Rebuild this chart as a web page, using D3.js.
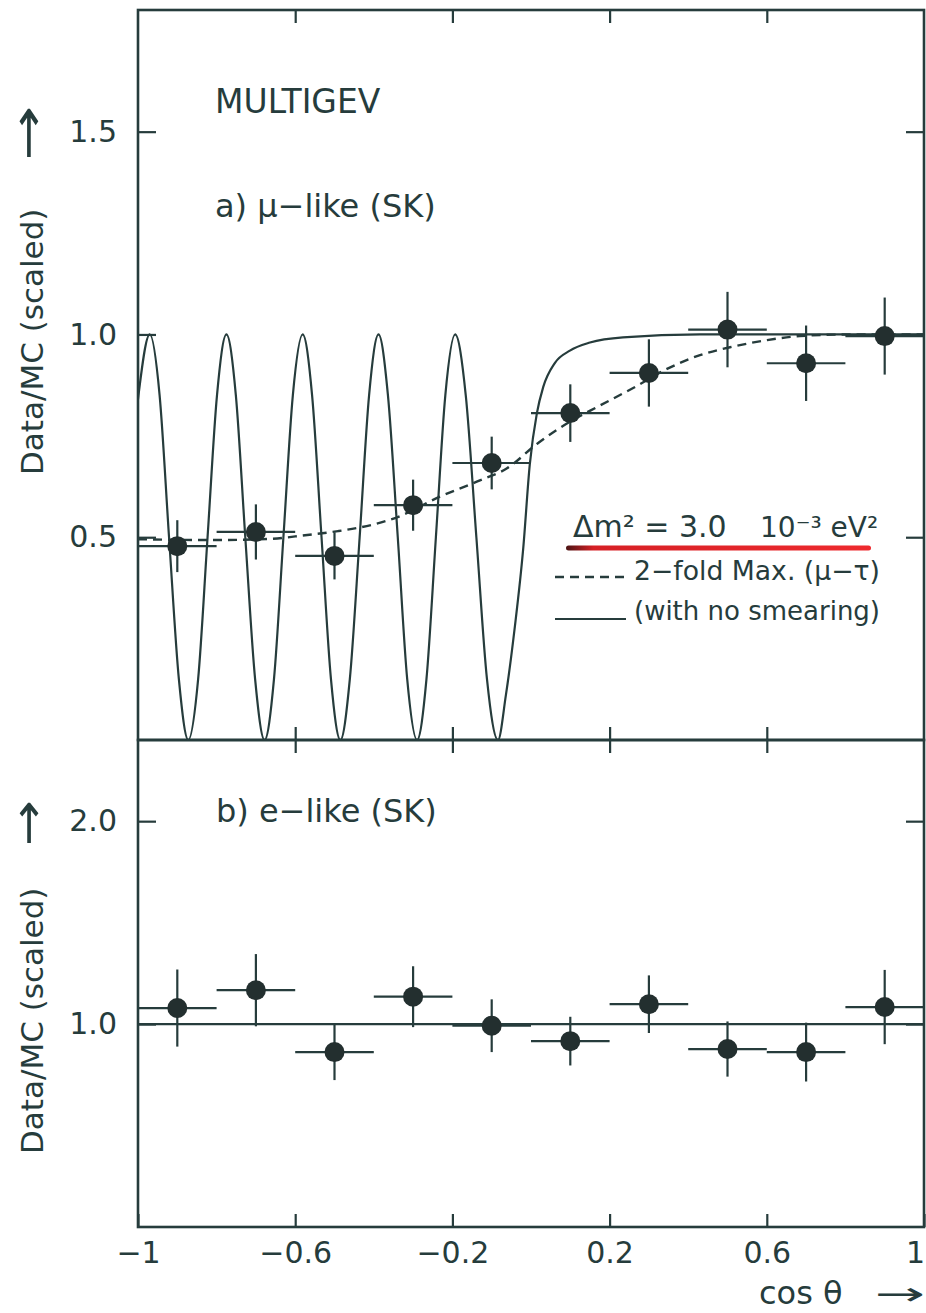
<!DOCTYPE html>
<html>
<head>
<meta charset="UTF-8">
<title>Multi-GeV Data/MC vs cos theta</title>
<script src="https://d3js.org/d3.v7.min.js"></script>
<style>
  body { margin: 0; background: #fff; }
  svg { display: block; }
  text { font-family: "DejaVu Sans", sans-serif; }
</style>
</head>
<body>
<svg id="chart" width="926" height="1313"></svg>
<script>
// bins in cos(theta), width 0.2
var cosBins = [-0.9, -0.7, -0.5, -0.3, -0.1, 0.1, 0.3, 0.5, 0.7, 0.9];
var binHalf = 0.1;

// a) mu-like
var muRatio = [0.478, 0.513, 0.454, 0.579, 0.683, 0.806, 0.905, 1.012, 0.929, 0.996];
var muErr   = [0.064, 0.068, 0.058, 0.063, 0.065, 0.071, 0.083, 0.093, 0.093, 0.095];

// b) e-like
var eRatio = [1.079, 1.167, 0.862, 1.135, 0.992, 0.916, 1.098, 0.877, 0.862, 1.084];
var eErr   = [0.190, 0.178, 0.138, 0.150, 0.130, 0.120, 0.142, 0.136, 0.145, 0.183];

// 2-fold max (mu-tau), smeared - dashed
var smearCos   = [-1, -0.804, -0.662, -0.575, -0.491, -0.407, -0.344, -0.232, -0.130, -0.061, 0.015, 0.099, 0.176, 0.260, 0.346, 0.430, 0.514, 0.601, 0.684, 0.812, 1];
var smearRatio = [0.495, 0.493, 0.496, 0.505, 0.515, 0.530, 0.548, 0.600, 0.640, 0.670, 0.730, 0.785, 0.825, 0.868, 0.915, 0.949, 0.970, 0.986, 0.996, 1.0, 1.0];

// same, with no smearing - solid
var rawCos = [-1.000, -0.970, -0.945, -0.921, -0.896, -0.872, -0.847, -0.823, -0.799, -0.775,
              -0.751, -0.727, -0.702, -0.678, -0.654, -0.630, -0.606, -0.581, -0.557, -0.533,
              -0.509, -0.485, -0.461, -0.436, -0.412, -0.388, -0.364, -0.339, -0.315, -0.290,
              -0.266, -0.242, -0.218, -0.193, -0.166, -0.139, -0.112, -0.084, -0.064, -0.041,
              -0.020, -0.003, 0.015, 0.031, 0.061, 0.099, 0.150, 0.234, 0.430, 1.0];
var rawRatio = [0.84, 1, 0.85, 0.5, 0.15, 0, 0.15, 0.5, 0.85, 1,
                0.85, 0.5, 0.15, 0, 0.15, 0.5, 0.85, 1, 0.85, 0.5,
                0.15, 0, 0.15, 0.5, 0.85, 1, 0.85, 0.5, 0.15, 0,
                0.15, 0.5, 0.85, 1, 0.85, 0.5, 0.15, 0, 0.11, 0.28,
                0.47, 0.68, 0.806, 0.87, 0.93, 0.96, 0.98, 0.993, 1.0, 1.0];

// e-like expectation
var eFlat = [1.0, 1.0];

var xTicks = [-1, -0.6, -0.2, 0.2, 0.6, 1];
var xTickText = ["\u22121", "\u22120.6", "\u22120.2", "0.2", "0.6", "1"];
var yTicksTop = [0.5, 1.0, 1.5];
var yTicksBot = [1.0, 2.0];

var ink = "#263c3c";
var svg = d3.select("#chart");

var x = d3.scaleLinear().domain([-1, 1]).range([138, 924]);
var yTop = d3.scaleLinear().domain([0, 1.8]).range([740, 10]);
var yBot = d3.scaleLinear().domain([0, 2.4]).range([1227, 740]);

function styleAxis(g) {
  g.select(".domain").remove();
  g.attr("font-family", "DejaVu Sans").attr("font-size", 30).attr("color", ink);
  g.selectAll("line").attr("stroke-width", 2.2);
}

function panel(y, yTicks, withLabels, id) {
  var top = y.range()[1], bottom = y.range()[0];
  var inner = xTicks.slice(1, -1);

  var gx = svg.append("g").attr("transform", "translate(0," + bottom + ")")
    .call(d3.axisBottom(x).tickValues(withLabels ? xTicks : inner).tickSizeInner(-13).tickSizeOuter(0).tickPadding(15)
      .tickFormat(function(d, i) { return withLabels ? xTickText[i] : ""; }))
    .call(styleAxis);
  // keep the last label inside the page
  gx.selectAll("text").filter(function(d) { return d === 1; }).attr("dx", -9);

  svg.append("g").attr("transform", "translate(0," + top + ")")
    .call(d3.axisTop(x).tickValues(inner).tickSizeInner(-13).tickSizeOuter(0).tickFormat(""))
    .call(styleAxis);

  svg.append("g").attr("transform", "translate(" + x(-1) + ",0)")
    .call(d3.axisLeft(y).tickValues(yTicks).tickSizeInner(-18).tickSizeOuter(0).tickPadding(21).tickFormat(d3.format(".1f")))
    .call(styleAxis);

  svg.append("g").attr("transform", "translate(" + x(1) + ",0)")
    .call(d3.axisRight(y).tickValues(yTicks).tickSizeInner(-18).tickSizeOuter(0).tickFormat(""))
    .call(styleAxis);

  svg.append("rect")
    .attr("x", x(-1)).attr("y", top)
    .attr("width", x(1) - x(-1)).attr("height", bottom - top)
    .attr("fill", "none").attr("stroke", ink).attr("stroke-width", 2.6);

  svg.append("clipPath").attr("id", id)
    .append("rect")
    .attr("x", x(-1)).attr("y", top)
    .attr("width", x(1) - x(-1)).attr("height", bottom - top);
}

function points(y, vals, errs) {
  var g = svg.append("g").attr("stroke", ink).attr("stroke-width", 2.2);
  cosBins.forEach(function(c, i) {
    g.append("line")
      .attr("x1", x(c - binHalf)).attr("x2", x(c + binHalf))
      .attr("y1", y(vals[i])).attr("y2", y(vals[i]));
    g.append("line")
      .attr("x1", x(c)).attr("x2", x(c))
      .attr("y1", y(vals[i] - errs[i])).attr("y2", y(vals[i] + errs[i]));
    g.append("circle")
      .attr("cx", x(c)).attr("cy", y(vals[i])).attr("r", 10)
      .attr("fill", "#232f2f").attr("stroke", "none");
  });
}

panel(yTop, yTicksTop, false, "clipTop");
panel(yBot, yTicksBot, true, "clipBot");

// curves, top panel
var lineTop = d3.line()
  .x(function(d) { return x(d[0]); })
  .y(function(d) { return yTop(d[1]); })
  .curve(d3.curveMonotoneX);

svg.append("path")
  .datum(d3.zip(rawCos, rawRatio))
  .attr("clip-path", "url(#clipTop)")
  .attr("d", lineTop)
  .attr("fill", "none").attr("stroke", ink).attr("stroke-width", 2.2);

svg.append("path")
  .datum(d3.zip(smearCos, smearRatio))
  .attr("clip-path", "url(#clipTop)")
  .attr("d", lineTop)
  .attr("fill", "none").attr("stroke", ink).attr("stroke-width", 2.4)
  .attr("stroke-dasharray", "9,6");

points(yTop, muRatio, muErr);

// bottom panel
svg.append("path")
  .datum(d3.zip([-1, 1], eFlat))
  .attr("d", d3.line().x(function(d) { return x(d[0]); }).y(function(d) { return yBot(d[1]); }))
  .attr("fill", "none").attr("stroke", ink).attr("stroke-width", 2.2);

points(yBot, eRatio, eErr);

// texts
function label(txt, px, py, size) {
  return svg.append("text").attr("x", px).attr("y", py)
    .attr("font-size", size).attr("fill", ink).text(txt);
}

label("MULTIGEV", 215, 113, 33);
label("a) \u03bc\u2212like (SK)", 215, 217, 32);
label("b) e\u2212like (SK)", 216, 822, 32);

// y titles with arrows
[[475, 157, 1.5], [1154, 843, 1.25]].forEach(function(p) {
  svg.append("text")
    .attr("transform", "translate(43," + p[0] + ") rotate(-90)")
    .attr("font-size", 31).attr("fill", ink)
    .text("Data/MC (scaled)");
  svg.append("text")
    .attr("transform", "translate(29," + p[1] + ") scale(1," + p[2] + ")")
    .attr("text-anchor", "middle")
    .attr("font-size", 44).attr("fill", ink)
    .text("\u2191");
});

// x title
label("cos \u03b8", 759, 1304, 32);
svg.append("text")
  .attr("transform", "translate(925,1305) scale(1.5,0.8)")
  .attr("text-anchor", "end")
  .attr("font-size", 40).attr("fill", ink)
  .text("\u2192");

// legend
label("\u0394m\u00b2 = 3.0", 573, 537, 30);
label("10\u207b\u00b3 eV\u00b2", 760, 537, 28);

var grad = svg.append("defs").append("linearGradient").attr("id", "redline")
  .attr("x1", "0%").attr("x2", "100%");
grad.append("stop").attr("offset", "0%").attr("stop-color", "#4a1414");
grad.append("stop").attr("offset", "9%").attr("stop-color", "#d62025");
grad.append("stop").attr("offset", "100%").attr("stop-color", "#ee2a2e");

svg.append("rect")
  .attr("x", 566).attr("y", 545.5).attr("width", 305).attr("height", 5).attr("rx", 2.5)
  .attr("fill", "url(#redline)");

svg.append("line").attr("x1", 555).attr("x2", 626).attr("y1", 577).attr("y2", 577)
  .attr("stroke", ink).attr("stroke-width", 2.4).attr("stroke-dasharray", "9,6");
svg.append("line").attr("x1", 555).attr("x2", 626).attr("y1", 619).attr("y2", 619)
  .attr("stroke", ink).attr("stroke-width", 2.2);

label("2\u2212fold Max. (\u03bc\u2212\u03c4)", 634, 580, 27).attr("textLength", 246).attr("lengthAdjust", "spacingAndGlyphs");
label("(with no smearing)", 634, 620, 27).attr("textLength", 246).attr("lengthAdjust", "spacingAndGlyphs");
</script>
</body>
</html>
